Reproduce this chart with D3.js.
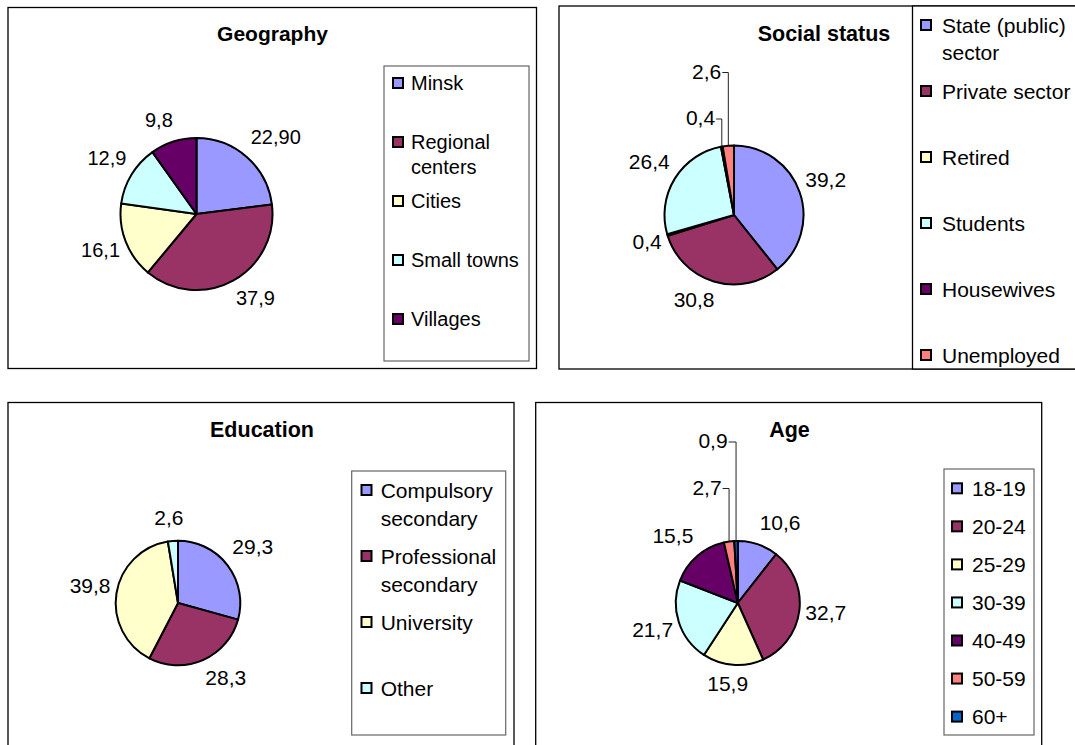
<!DOCTYPE html>
<html>
<head>
<meta charset="utf-8">
<script src="https://cdnjs.cloudflare.com/ajax/libs/d3/7.8.5/d3.min.js"></script>
<style>
  html, body { margin: 0; padding: 0; background: #fff; }
  svg { display: block; font-family: "Liberation Sans", Arial, sans-serif; }
</style>
</head>
<body>
<svg id="chart" width="1075" height="745"></svg>
<script>
// Structure of the survey sample, % of respondents
const geoCategories = ["Minsk", "Regional centers", "Cities", "Small towns", "Villages"];
const geoValues = [22.90, 37.9, 16.1, 12.9, 9.8];
const geoDecimals = [2, 1, 1, 1, 1];

const socialCategories = ["State (public) sector", "Private sector", "Retired", "Students", "Housewives", "Unemployed"];
const socialValues = [39.2, 30.8, 0.4, 26.4, 0.4, 2.6];

const eduCategories = ["Compulsory secondary", "Professional secondary", "University", "Other"];
const eduValues = [29.3, 28.3, 39.8, 2.6];

const ageCategories = ["18-19", "20-24", "25-29", "30-39", "40-49", "50-59", "60+"];
const ageValues = [10.6, 32.7, 15.9, 21.7, 15.5, 2.7, 0.9];

// Classic office chart palette, one colour per slice in order
const palette = ["#9999FF", "#993366", "#FFFFCC", "#CCFFFF", "#660066", "#FF8080", "#0066CC"];

const svg = d3.select("#chart");
const clamp1 = v => Math.max(-1, Math.min(1, v));

// Number with a decimal comma
function commaFormat(v, digits) {
  return d3.format("." + digits + "f")(v).replace(".", ",");
}

// Greedy word wrap of a legend entry to a maximum pixel width
function wrapWords(textSel, words, maxWidth) {
  const lines = [];
  let line = [];
  words.forEach(w => {
    const trial = line.concat([w]).join(" ");
    textSel.text(trial);
    if (line.length && textSel.node().getComputedTextLength() > maxWidth) {
      lines.push(line.join(" "));
      line = [w];
    } else {
      line.push(w);
    }
  });
  if (line.length) lines.push(line.join(" "));
  textSel.text(null);
  return lines;
}

function drawPiePanel(cfg) {
  const g = svg.append("g");

  // chart frame
  g.append("rect")
    .attr("x", cfg.frame.x).attr("y", cfg.frame.y)
    .attr("width", cfg.frame.w).attr("height", cfg.frame.h)
    .attr("fill", "#fff").attr("stroke", "#000").attr("stroke-width", 1.3);

  // title
  g.append("text")
    .attr("x", cfg.title.x).attr("y", cfg.title.y).attr("dy", "0.36em")
    .attr("text-anchor", "middle")
    .attr("font-size", cfg.titleSize).attr("font-weight", "bold")
    .attr("fill", "#000")
    .text(cfg.title.text);

  // pie, starting at 12 o'clock and running clockwise
  const arcs = d3.pie().sort(null).value(d => d.value)
    .startAngle(0).endAngle(2 * Math.PI)(cfg.data);
  const arc = d3.arc().innerRadius(0).outerRadius(cfg.r);
  const pieG = g.append("g").attr("transform", `translate(${cfg.cx},${cfg.cy})`);

  pieG.selectAll("path.slice").data(arcs).join("path")
    .attr("class", "slice")
    .attr("d", arc)
    .attr("fill", (d, i) => palette[i])
    .attr("stroke", "#000").attr("stroke-width", 2)
    .attr("stroke-linejoin", "round");

  // value labels outside the slices; the label box is pushed away from the pie
  const labelG = pieG.append("g");
  arcs.forEach((a, i) => {
    const mid = (a.startAngle + a.endAngle) / 2;
    const s = Math.sin(mid), c = -Math.cos(mid);
    const t = labelG.append("text")
      .attr("text-anchor", "middle")
      .attr("font-size", cfg.fontSize)
      .attr("fill", "#000")
      .text(commaFormat(a.data.value, cfg.decimals ? cfg.decimals[i] : 1));
    const w = t.node().getComputedTextLength();
    const h = cfg.fontSize * 0.75;
    const lead = cfg.leaders && cfg.leaders[i];
    let lx, ly;
    if (lead) {
      lx = lead.dx; ly = lead.dy;
    } else {
      lx = (cfg.r + 6) * s + clamp1(3 * s) * w / 2;
      ly = (cfg.r + 12) * c + clamp1(2 * c) * h / 2 - (c < 0 ? 2 : 0);
    }
    t.attr("x", lx).attr("y", ly).attr("dy", "0.3em");
    if (lead) {
      const ex = cfg.r * s, ey = cfg.r * c;
      labelG.append("path")
        .attr("d", d3.line()([[lx + w / 2 + 1, ly], [ex, ly], [ex, ey]]))
        .attr("fill", "none").attr("stroke", "#222").attr("stroke-width", 1);
    }
  });

  // legend
  const lg = cfg.legend;
  g.append("rect")
    .attr("x", lg.x).attr("y", lg.y).attr("width", lg.w).attr("height", lg.h)
    .attr("fill", "#fff").attr("stroke", lg.stroke).attr("stroke-width", lg.strokeWidth);

  cfg.data.forEach((d, i) => {
    const yc = lg.firstY + i * lg.step;
    g.append("rect")
      .attr("x", lg.swatchX + 1).attr("y", yc - 5)
      .attr("width", 10).attr("height", 10)
      .attr("fill", palette[i]).attr("stroke", "#000").attr("stroke-width", 2);
    const t = g.append("text")
      .attr("font-size", cfg.fontSize).attr("fill", "#000");
    const lines = wrapWords(t, d.name.split(" "), lg.maxTextWidth);
    lines.forEach((ln, k) => {
      t.append("tspan")
        .attr("x", lg.textX)
        .attr("y", yc + k * lg.lineHeight)
        .attr("dy", "0.36em")
        .text(ln);
    });
  });
}

const zip = (names, values) => names.map((n, i) => ({ name: n, value: values[i] }));

drawPiePanel({
  data: zip(geoCategories, geoValues),
  decimals: geoDecimals,
  frame: { x: 8, y: 7.5, w: 528.5, h: 361 },
  title: { text: "Geography", x: 272.5, y: 33 },
  titleSize: 21, fontSize: 20,
  cx: 196.5, cy: 214, r: 76,
  legend: { x: 384, y: 66, w: 145, h: 295, stroke: "#666", strokeWidth: 1.2,
            swatchX: 392, textX: 411, firstY: 83, step: 59, lineHeight: 25, maxTextWidth: 112 }
});

drawPiePanel({
  data: zip(socialCategories, socialValues),
  frame: { x: 559, y: 6, w: 540, h: 363 },
  title: { text: "Social status", x: 824, y: 33 },
  titleSize: 21.5, fontSize: 21,
  cx: 734, cy: 215, r: 69.5,
  leaders: { 4: { dx: -33.5, dy: -96 }, 5: { dx: -27.3, dy: -142.5 } },
  legend: { x: 912.5, y: 6, w: 200, h: 363, stroke: "#000", strokeWidth: 1.3,
            swatchX: 920, textX: 942, firstY: 25, step: 66, lineHeight: 27.7, maxTextWidth: 140 }
});

drawPiePanel({
  data: zip(eduCategories, eduValues),
  frame: { x: 8, y: 402.5, w: 506, h: 360 },
  title: { text: "Education", x: 262, y: 429 },
  titleSize: 21.5, fontSize: 21,
  cx: 178, cy: 603, r: 62.3,
  legend: { x: 351.7, y: 471, w: 154, h: 264, stroke: "#666", strokeWidth: 1.2,
            swatchX: 360.5, textX: 380.7, firstY: 490, step: 66, lineHeight: 28, maxTextWidth: 122 }
});

drawPiePanel({
  data: zip(ageCategories, ageValues),
  frame: { x: 535.7, y: 402.5, w: 506, h: 360 },
  title: { text: "Age", x: 789.5, y: 429 },
  titleSize: 21.5, fontSize: 21,
  cx: 737.8, cy: 603, r: 62,
  leaders: { 5: { dx: -30.8, dy: -114.5 }, 6: { dx: -24.8, dy: -161 } },
  legend: { x: 944, y: 469, w: 90, h: 266, stroke: "#666", strokeWidth: 1.2,
            swatchX: 951, textX: 972, firstY: 488.3, step: 38.05, lineHeight: 25, maxTextWidth: 80 }
});
</script>
</body>
</html>
